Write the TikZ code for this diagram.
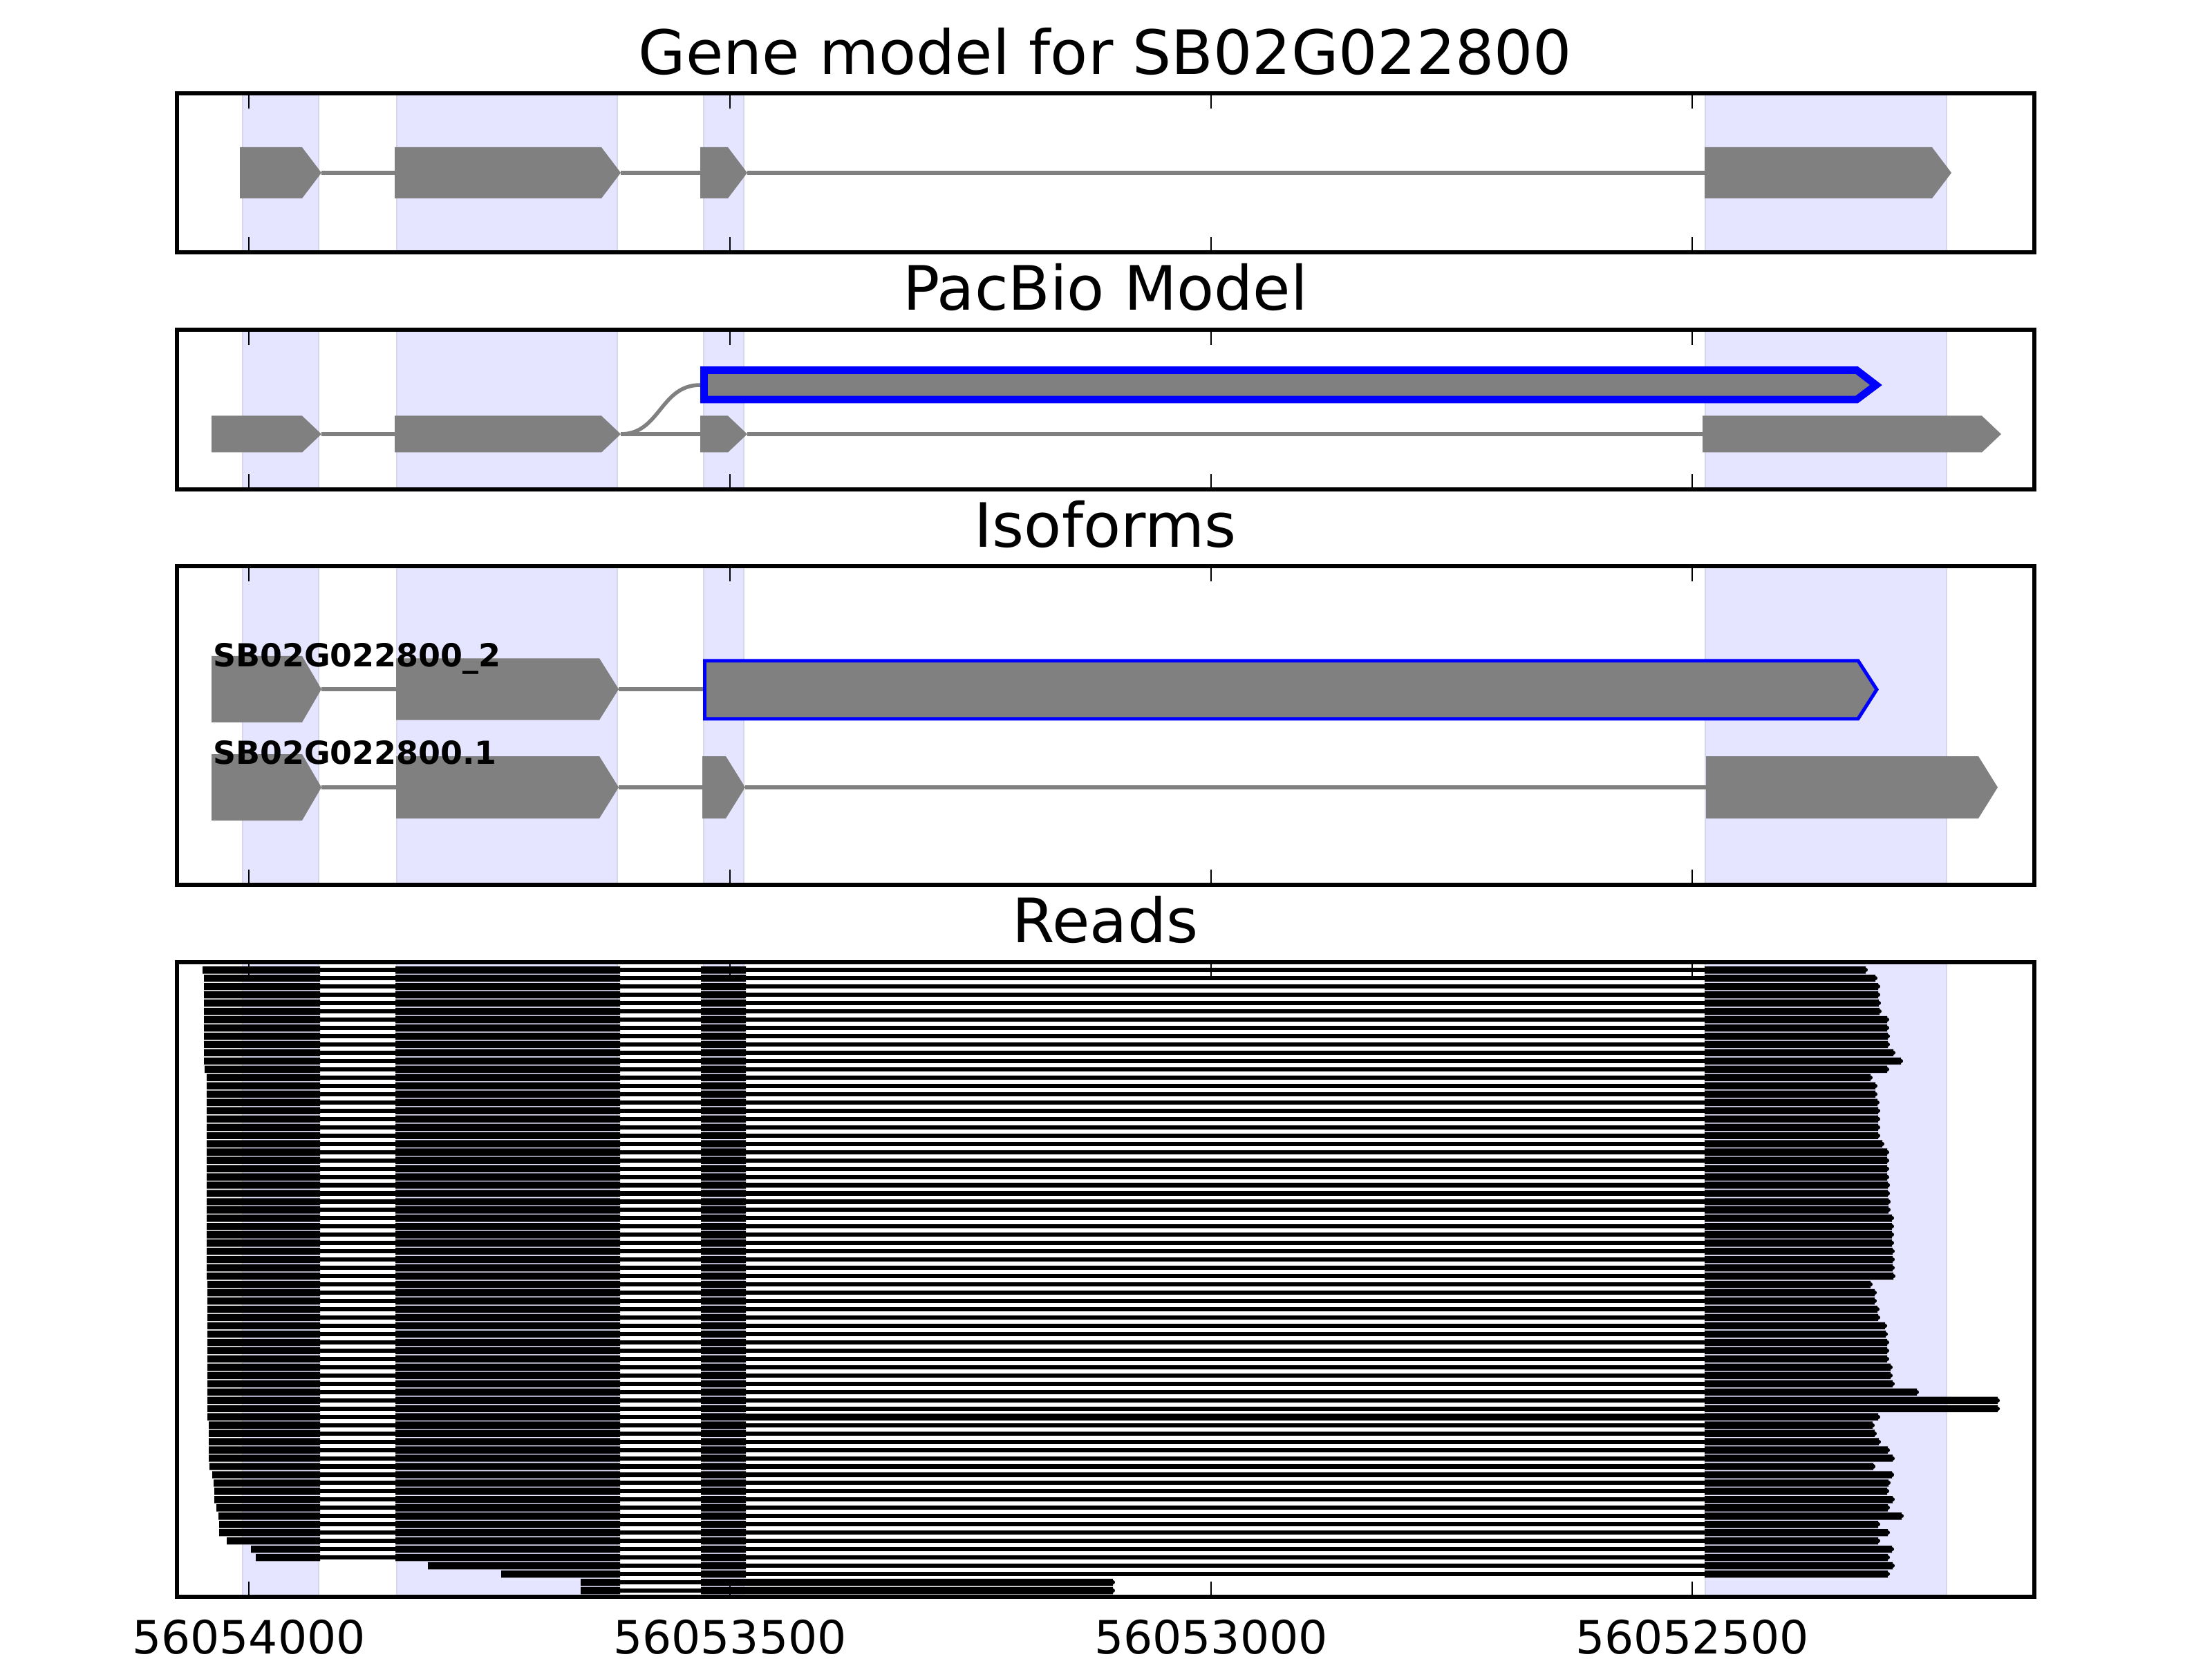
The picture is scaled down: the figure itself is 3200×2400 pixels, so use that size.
\documentclass[tikz,border=0pt]{standalone}
\usepackage{fontspec}
\setmainfont{DejaVu Sans}
\usetikzlibrary{calc}

\definecolor{spanedge}{RGB}{214,214,236}

% pointed exon: left, tip, centre y, half height
\newcommand{\exonarrow}[4]{%
  \fill[exonfill] (#1,#3-#4) -- (#2-28,#3-#4) -- (#2,#3) -- (#2-28,#3+#4) -- (#1,#3+#4) -- cycle;}

\begin{document}
\begin{tikzpicture}[x=0.0025in, y=-0.0025in,
    exonspan/.style={fill=blue!10, draw=spanedge, line width=0.3pt},
    frame/.style={draw=black, line width=1pt},
    tickmark/.style={draw=black, line width=0.5pt},
    exonfill/.style={fill=gray},
    intron/.style={draw=gray, line width=1pt},
    isoform/.style={draw=blue, fill=gray, line join=miter},
    readexon/.style={fill=black},
    readintron/.style={draw=black, line width=1.1pt, line cap=round},
    paneltitle/.style={font=\fontsize{16}{19}\selectfont, anchor=base, inner sep=0pt},
    ticklabel/.style={font=\fontsize{12}{14}\selectfont, anchor=base, inner sep=0pt},
    isolabel/.style={font=\fontsize{8.3}{10}\selectfont\bfseries, anchor=base west, inner sep=0pt}]
  % 3200 x 2400 px page, 1 unit = 1 px
  \useasboundingbox (0,0) rectangle (3200,2400);

  % exon spans in every panel
  \foreach \top/\bot in {135/365, 477/708, 819/1280, 1392/2310} {
    \foreach \a/\b in {351/461, 574/893, 1018/1076, 2467/2816}
      \filldraw[exonspan] (\a,\top) rectangle (\b,\bot);
  }

  % Gene model
  \exonarrow{347}{465}{250}{37}
  \exonarrow{571}{898}{250}{37}
  \exonarrow{1013}{1081}{250}{37}
  \exonarrow{2466}{2823}{250}{37}
  \draw[intron] (465,250) -- (571,250) (898,250) -- (1013,250) (1081,250) -- (2466,250);

  % PacBio model
  \exonarrow{306}{465}{628}{26.5}
  \exonarrow{571}{898}{628}{26.5}
  \exonarrow{1013}{1081}{628}{26.5}
  \exonarrow{2463}{2895}{628}{26.5}
  \draw[intron] (465,628) -- (571,628) (898,628) -- (1013,628) (1081,628) -- (2463,628);
  \draw[intron] (898,628) .. controls (955,628) and (955,557) .. (1013,557);
  \filldraw[isoform, line width=1.93pt] (1018.5,535.5) -- (2686,535.5) -- (2714,557)
    -- (2686,578) -- (1018.5,578) -- cycle;

  % Isoforms
  \exonarrow{306}{465}{997}{48}
  \exonarrow{573}{895}{997}{44.7}
  \draw[intron] (465,997) -- (573,997) (895,997) -- (1017,997);
  \filldraw[isoform, line width=0.9pt] (1019.5,955.8) -- (2688,955.8) -- (2715,997.5)
    -- (2688,1039.8) -- (1019.5,1039.8) -- cycle;
  \exonarrow{306}{465}{1139}{48}
  \exonarrow{573}{895}{1139}{45}
  \exonarrow{1016}{1078}{1139}{45}
  \exonarrow{2468}{2890}{1139}{45}
  \draw[intron] (465,1139) -- (573,1139) (895,1139) -- (1016,1139) (1078,1139) -- (2468,1139);
  \node[isolabel] (iso2) at (307,964) {SB02G022800\_2};
  \node[isolabel] (iso1) at (307,1105) {SB02G022800.1};

  % Reads: start/end of each full-length read
  \foreach \s/\e [count=\i, evaluate=\i as \y using 1403.3+(\i-1)*11.97] in
    {293/2702, 295/2716, 295/2720, 295/2720, 295/2721, 295/2722, 295/2733, 295/2733,
     295/2734, 295/2734, 295/2742, 295/2753, 296/2733, 299/2709, 299/2716, 299/2716,
     299/2719, 299/2720, 299/2720, 299/2720, 299/2720, 299/2726, 299/2733, 299/2733,
     299/2733, 299/2733, 299/2734, 299/2734, 299/2735, 299/2735, 299/2740, 299/2740,
     299/2740, 299/2740, 299/2741, 299/2741, 299/2741, 299/2742, 300/2709, 300/2715,
     300/2715, 300/2719, 300/2720, 300/2730, 300/2731, 300/2733, 300/2733, 300/2733,
     300/2738, 300/2738, 300/2741, 300/2776, 300/2893, 300/2893, 300/2720, 302/2712,
     302/2715, 302/2721, 302/2734, 302/2741, 303/2713, 307/2740, 309/2735, 310/2733,
     310/2741, 313/2734, 316/2754, 317/2720, 317/2734, 328/2720, 363/2740, 370/2734} {
    \draw[readintron] (\s+4,\y) -- (\e-3,\y);
    \fill[readexon] (\s,\y-5.2) rectangle (463,\y+5.2)
      (572,\y-5.2) rectangle (897,\y+5.2)
      (1014,\y-5.2) rectangle (1079,\y+5.2)
      (2466,\y-5.2) rectangle (\e-3,\y+5.2);
  }
  % read with retained last intron
  \fill[readexon] (1014,2044.5) rectangle (2717,2054.9);
  % reads starting inside exon 2
  \foreach \s/\e/\y in {619/2741/2265.1, 725/2734/2277.1} {
    \draw[readintron] (\s+4,\y) -- (\e-3,\y);
    \fill[readexon] (\s,\y-5.2) rectangle (897,\y+5.2)
      (1014,\y-5.2) rectangle (1079,\y+5.2)
      (2466,\y-5.2) rectangle (\e-3,\y+5.2);
  }
  \foreach \y in {2289.1, 2301.1} {
    \draw[readintron] (844,\y) -- (1610,\y);
    \fill[readexon] (840,\y-5.2) rectangle (897,\y+5.2)
      (1014,\y-5.2) rectangle (1610,\y+5.2);
  }

  % frames and ticks
  \foreach \top/\bot in {135/365, 477/708, 819/1280, 1392/2310} {
    \foreach \t in {360, 1056, 1752, 2448} {
      \draw[tickmark] (\t,\top) -- ++(0,22);
      \draw[tickmark] (\t,\bot) -- ++(0,-22);
    }
    \draw[frame] (256,\top) rectangle (2943,\bot);
  }

  % titles
  \node[paneltitle] (gene) at (1599,108) {Gene model for SB02G022800};
  \node[paneltitle] (pacbio) at (1599,449) {PacBio Model};
  \node[paneltitle] (isoforms) at (1599,792) {Isoforms};
  \node[paneltitle] (reads) at (1599,1363) {Reads};

  % tick labels
  \node[ticklabel] (t1) at (360,2392) {56054000};
  \node[ticklabel] (t2) at (1056,2392) {56053500};
  \node[ticklabel] (t3) at (1752,2392) {56053000};
  \node[ticklabel] (t4) at (2448,2392) {56052500};
\end{tikzpicture}
\end{document}
